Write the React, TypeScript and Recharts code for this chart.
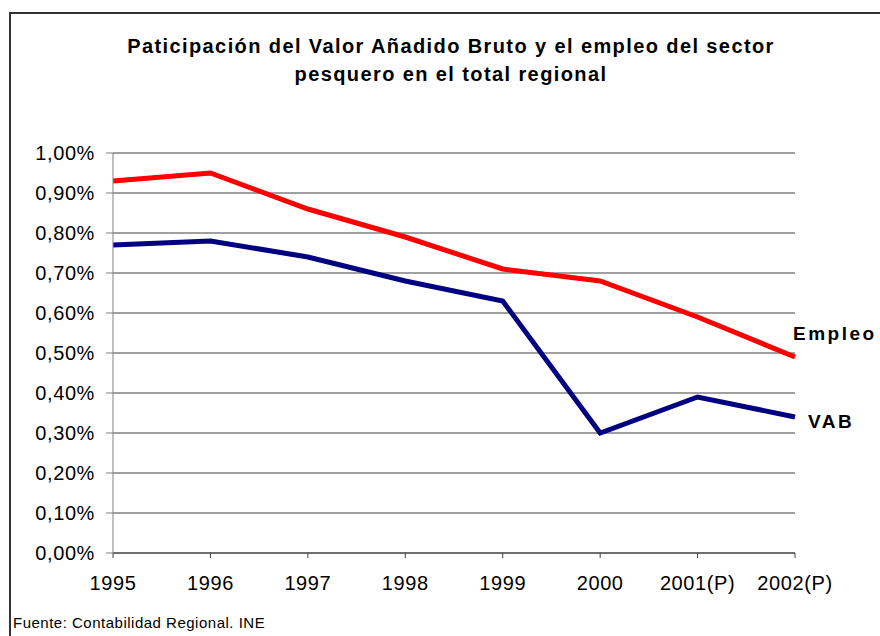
import React from "react";
import { LineChart, Line, XAxis, YAxis, CartesianGrid, Customized } from "recharts";

const years = ["1995", "1996", "1997", "1998", "1999", "2000", "2001(P)", "2002(P)"];
const empleo = [0.93, 0.95, 0.86, 0.79, 0.71, 0.68, 0.59, 0.49];
const vab = [0.77, 0.78, 0.74, 0.68, 0.63, 0.3, 0.39, 0.34];
const yTicks = [0, 0.1, 0.2, 0.3, 0.4, 0.5, 0.6, 0.7, 0.8, 0.9, 1.0];
const titleLines = [
  "Paticipación del Valor Añadido Bruto y el empleo del sector",
  "pesquero en el total regional",
];
const footnote = "Fuente: Contabilidad Regional. INE";

const data = years.map((y, i) => ({ year: y, empleo: empleo[i], vab: vab[i] }));

const FONT = "'Liberation Sans', Arial, sans-serif";

const fmt = (v: number) => v.toFixed(2).replace(".", ",") + "%";

const makeLabel = (text: string, dx: number, dy: number) => (props: any) => {
  const { x, y, index } = props;
  if (index !== years.length - 1) return null;
  return (
    <text
      key={text}
      x={x + dx}
      y={y + dy}
      fontFamily={FONT}
      fontWeight="bold"
      fontSize={19}
      letterSpacing={2.5}
      fill="#000"
    >
      {text}
    </text>
  );
};

const Decor = () => (
  <g>
    <rect x={10} y={13} width={900} height={700} fill="none" stroke="#333" strokeWidth={2} />
    {titleLines.map((t, i) => (
      <text
        key={i}
        x={451}
        y={53 + i * 28}
        textAnchor="middle"
        fontFamily={FONT}
        fontWeight="bold"
        fontSize={20}
        letterSpacing={1.4}
        fill="#000"
      >
        {t}
      </text>
    ))}
    <text x={13} y={628} fontFamily={FONT} fontSize={15} letterSpacing={0.5} fill="#000">
      {footnote}
    </text>
  </g>
);

export default function App() {
  return (
    <div style={{ position: "absolute", left: 0, top: 0, background: "#fff" }}>
      <LineChart
        width={880}
        height={636}
        data={data}
        margin={{ top: 153, right: 85, bottom: 53, left: 13 }}
      >
        <Customized component={Decor} />
        <CartesianGrid vertical={false} stroke="#404040" strokeWidth={1} />
        <XAxis
          dataKey="year"
          height={30}
          stroke="#404040"
          tickSize={5}
          tickMargin={18}
          tick={{ fill: "#000", fontSize: 20, fontFamily: FONT, letterSpacing: 0.6 }}
          interval={0}
        />
        <YAxis
          width={100}
          domain={[0, 1]}
          ticks={yTicks}
          tickFormatter={fmt}
          stroke="#808080"
          tickSize={7}
          tickMargin={11}
          tick={{ fill: "#000", fontSize: 20, fontFamily: FONT, letterSpacing: 0.6 }}
          interval={0}
        />
        <Line
          dataKey="empleo"
          stroke="#FF0000"
          strokeWidth={5}
          dot={false}
          isAnimationActive={false}
          label={makeLabel("Empleo", -2, -17)}
        />
        <Line
          dataKey="vab"
          stroke="#000080"
          strokeWidth={5}
          dot={false}
          isAnimationActive={false}
          label={makeLabel("VAB", 13, 11)}
        />
      </LineChart>
    </div>
  );
}
